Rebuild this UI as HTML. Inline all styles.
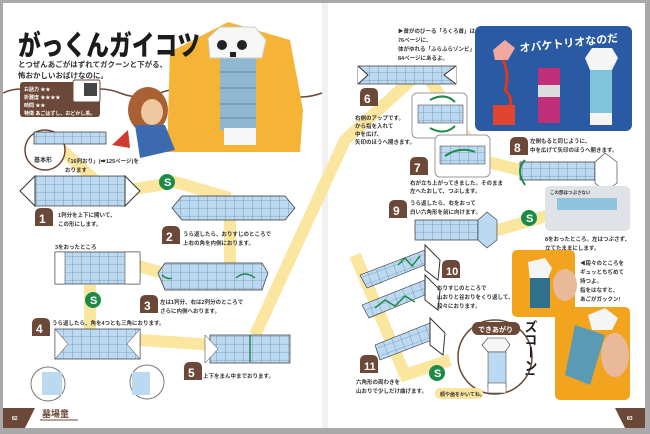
<!DOCTYPE html>
<html><head><meta charset="utf-8"><style>
html,body{margin:0;padding:0;background:#fff}
svg{display:block}
text{font-family:"Liberation Sans","Noto Sans CJK JP",sans-serif;font-weight:bold;fill:#333}
</style></head><body>
<svg width="650" height="434" viewBox="0 0 650 434" xmlns="http://www.w3.org/2000/svg">
<defs>
<pattern id="g" width="9" height="8" patternUnits="userSpaceOnUse">
<rect width="9" height="8" fill="#bcd9f2"/><path d="M0 0H9M0 0V8" stroke="#5a6f86" stroke-width="0.6"/>
</pattern>
<pattern id="g2" width="9" height="8" patternUnits="userSpaceOnUse" patternTransform="rotate(-20)">
<rect width="9" height="8" fill="#bcd9f2"/><path d="M0 0H9M0 0V8" stroke="#5a6f86" stroke-width="0.6"/>
</pattern>
<g id="tomb"><path d="M2 18V6Q2 0 8 0H14Q20 0 20 6V18Z" fill="#6b4838"/></g>
<g id="sic"><circle r="8" fill="#1e8a4a"/><text x="-3" y="4" font-size="11" style="fill:#fff">S</text></g>
</defs>
<rect width="650" height="434" fill="#a9a9a9"/>
<rect x="3" y="3" width="642" height="425" fill="#fff"/>
<rect x="322" y="3" width="6" height="425" fill="#f1f1f1"/>

<g stroke="#fbe6a0" stroke-width="12" fill="none">
<path d="M60 148 L100 185"/><path d="M130 190 L175 182 L230 198"/>
<path d="M230 220 V265"/><path d="M135 265 L170 275"/><path d="M90 285 V330"/>
<path d="M140 340 L215 345"/><path d="M255 335 L345 140 L420 72"/>
<path d="M430 80 L480 160 L540 175"/><path d="M480 235 L550 215"/>
<path d="M355 255 L405 375 L450 360"/>
</g>

<path d="M3 93 Q20 85 40 93 T80 93 T120 93 T160 93 T200 93 T240 93 T280 93 T322 93" stroke="#6b4838" stroke-width="1.5" fill="none"/>

<polygon points="170,52 228,22 290,40 303,110 300,152 167,152" fill="#f5b436"/>
<rect x="220" y="58" width="36" height="72" fill="#8fb7cf"/>
<g stroke="#5d8aa3" stroke-width="1"><path d="M220 72H256M220 88H256M220 104H256M220 118H256"/></g>
<rect x="224" y="128" width="32" height="17" fill="#f7f7f7"/>
<polygon points="208,38 220,27 255,27 266,40 262,58 210,58" fill="#f7f7f7" stroke="#ccc"/>
<circle cx="222" cy="45" r="5" fill="#222"/><circle cx="242" cy="45" r="5" fill="#222"/>
<rect x="230" y="52" width="6" height="5" fill="#222"/>

<ellipse cx="148" cy="110" rx="20" ry="23" fill="#a96032"/>
<ellipse cx="152" cy="112" rx="11" ry="13" fill="#f0c8a0"/>
<path d="M135 125 L165 125 L175 150 L140 158 Z" fill="#3b6ab0"/>
<path d="M128 130 L112 145 L130 148 Z" fill="#cf3b2c"/>

<text x="18" y="55" font-size="28" textLength="182" lengthAdjust="spacingAndGlyphs" style="fill:#1c1c1c;font-weight:900">がっくんガイコツ</text>
<text x="18" y="67" font-size="7.5">とつぜんあごがはずれてガクーンと下がる、</text>
<text x="18" y="78" font-size="7.5">怖おかしいおばけなのに。</text>

<rect x="20" y="82" width="80" height="35" rx="3" fill="#6b4838"/>
<text x="24" y="91" font-size="5" style="fill:#fff">お話力 ★★</text>
<text x="24" y="99" font-size="5" style="fill:#fff">折難度 ★★★★</text>
<text x="24" y="107" font-size="5" style="fill:#fff">時間 ★★</text>
<text x="24" y="115" font-size="5" style="fill:#fff">特徴 あごはずし、おどかし系。</text>
<rect x="73" y="80" width="27" height="22" rx="2" fill="#fff" stroke="#6b4838"/>
<rect x="84" y="83" width="13" height="13" fill="#444"/>

<circle cx="45" cy="150" r="20" fill="#fff" stroke="#6b4838" stroke-width="1.5"/>
<text x="34" y="162" font-size="6">基本形</text>
<rect x="34" y="132" width="72" height="12" fill="url(#g)" stroke="#333" stroke-width="0.7"/>
<text x="65" y="163" font-size="5.5">「16列おり」(➡125ページ)を</text>
<text x="65" y="172" font-size="5.5">おります</text>

<rect x="35" y="176" width="90" height="30" fill="url(#g)" stroke="#333" stroke-width="0.7"/>
<polygon points="20,191 35,176 35,206" fill="#fff" stroke="#333"/><polygon points="140,191 125,176 125,206" fill="#fff" stroke="#333"/>
<use href="#tomb" x="33" y="208"/><text x="39" y="223" font-size="12" style="fill:#fff">1</text>
<text x="58" y="217" font-size="5.5">1列分を上下に開いて、</text><text x="58" y="226" font-size="5.5">この形にします。</text>
<use href="#sic" x="167" y="182"/>

<polygon points="172,208 182,196 285,196 295,208 285,220 182,220" fill="url(#g)" stroke="#333" stroke-width="0.7"/>
<use href="#tomb" x="160" y="226"/><text x="166" y="241" font-size="12" style="fill:#fff">2</text>
<text x="183" y="236" font-size="5.5">うら返したら、おりすじのところで</text><text x="183" y="245" font-size="5.5">上右の角を内側におります。</text>

<text x="55" y="249" font-size="5.5">3をおったところ</text>
<rect x="55" y="252" width="85" height="32" fill="url(#g)" stroke="#333" stroke-width="0.7"/>
<rect x="55" y="252" width="10" height="32" fill="#fff" stroke="#333" stroke-width="0.5"/><rect x="125" y="252" width="15" height="32" fill="#fff" stroke="#333" stroke-width="0.5"/>
<use href="#sic" x="93" y="300"/>

<polygon points="158,273 165,263 262,263 268,273 262,290 165,290" fill="url(#g)" stroke="#333" stroke-width="0.7"/>
<path d="M162 275 Q168 280 172 278 M255 278 Q245 270 236 278" stroke="#1e8a4a" stroke-width="1.5" fill="none"/>
<use href="#tomb" x="138" y="295"/><text x="144" y="310" font-size="12" style="fill:#fff">3</text>
<text x="160" y="304" font-size="5.5">左は1列分、右は2列分のところで</text><text x="160" y="313" font-size="5.5">さらに内側へおります。</text>

<use href="#tomb" x="30" y="318"/><text x="36" y="333" font-size="12" style="fill:#fff">4</text>
<text x="52" y="325" font-size="5.5">うら返したら、角を4つとも三角におります。</text>
<rect x="55" y="329" width="85" height="30" fill="url(#g)" stroke="#333" stroke-width="0.7"/>
<polygon points="55,329 68,344 55,359" fill="#fff" stroke="#333" stroke-width="0.5"/><polygon points="140,329 127,344 140,359" fill="#fff" stroke="#333" stroke-width="0.5"/>
<circle cx="48" cy="384" r="17" fill="#fff" stroke="#777"/><polygon points="42,372 62,372 62,395 42,395" fill="#bcd9f2"/>
<circle cx="147" cy="382" r="17" fill="#fff" stroke="#777"/><polygon points="132,372 150,372 150,395 132,395" fill="#bcd9f2"/>

<rect x="210" y="335" width="80" height="28" fill="url(#g)" stroke="#333" stroke-width="0.7"/>
<polygon points="205,335 218,349 205,363" fill="#fff" stroke="#333" stroke-width="0.5"/>
<path d="M250 335 V362" stroke="#1e8a4a" stroke-width="1.5"/>
<use href="#tomb" x="182" y="362"/><text x="188" y="377" font-size="12" style="fill:#fff">5</text>
<text x="203" y="378" font-size="5.5">上下をまん中までおります。</text>

<polygon points="3,408 35,408 25,428 3,428" fill="#6b4838"/><text x="12" y="420" font-size="5" style="fill:#fff">82</text>
<text x="42" y="417" font-size="9" style="fill:#6b4838">墓場童</text><path d="M40 420H78" stroke="#6b4838"/>

<text x="398" y="33" font-size="5.5">▶首がのびーる「ろくろ首」は</text>
<text x="398" y="42" font-size="5.5">76ページに、</text>
<text x="398" y="51" font-size="5.5">体がゆれる「ふらふらゾンビ」は</text>
<text x="398" y="60" font-size="5.5">84ページにあるよ。</text>

<rect x="475" y="26" width="157" height="105" rx="6" fill="#2a5aa3"/>
<text x="520" y="52" font-size="11" style="fill:#fff" transform="rotate(-6 520 52)">オバケトリオなのだ</text>
<polygon points="493,50 505,40 515,48 508,60 495,60" fill="#f0a8a0"/>
<path d="M503 60 Q510 75 505 90 Q515 100 508 110" stroke="#d83a20" stroke-width="3" fill="none"/>
<rect x="493" y="105" width="22" height="20" fill="#e04530"/>
<rect x="538" y="68" width="22" height="55" fill="#c0307a"/><rect x="538" y="85" width="22" height="12" fill="#ddd"/>
<polygon points="585,58 592,48 612,48 618,58 612,70 590,70" fill="#f5f5f5"/>
<rect x="590" y="70" width="22" height="45" fill="#7fc4d8"/><rect x="590" y="113" width="22" height="12" fill="#f5f5f5"/>

<rect x="358" y="66" width="98" height="18" fill="url(#g)" stroke="#333" stroke-width="0.7"/>
<path d="M358 66L368 75L358 84M456 66L444 75L456 84" stroke="#333" fill="#fff"/>
<use href="#tomb" x="358" y="88"/><text x="364" y="103" font-size="12" style="fill:#fff">6</text>
<text x="355" y="120" font-size="5.5">右側のアップです。</text><text x="355" y="128" font-size="5.5">から指を入れて</text>
<text x="355" y="136" font-size="5.5">中を広げ、</text><text x="355" y="144" font-size="5.5">矢印のほうへ開きます。</text>
<rect x="412" y="93" width="55" height="45" rx="5" fill="#fff" stroke="#999"/>
<rect x="418" y="105" width="45" height="18" fill="url(#g)" stroke="#333" stroke-width="0.5"/>
<path d="M430 100 Q445 92 455 102 M430 128 Q445 136 455 126" stroke="#1e8a4a" stroke-width="2" fill="none"/>

<rect x="435" y="135" width="55" height="42" rx="5" fill="#fff" stroke="#999"/>
<rect x="440" y="146" width="45" height="18" fill="url(#g)" stroke="#333" stroke-width="0.5"/>
<path d="M445 156 Q460 146 475 152" stroke="#1e8a4a" stroke-width="2" fill="none"/>
<use href="#tomb" x="408" y="157"/><text x="414" y="172" font-size="12" style="fill:#fff">7</text>
<text x="410" y="185" font-size="5.5">右が立ち上がってきました。そのまま</text><text x="410" y="193" font-size="5.5">左へたおして、つぶします。</text>

<use href="#tomb" x="508" y="137"/><text x="514" y="152" font-size="12" style="fill:#fff">8</text>
<text x="530" y="143" font-size="5.5">左側もると同じように、</text><text x="530" y="152" font-size="5.5">中を広げて矢印のほうへ開きます。</text>
<rect x="520" y="162" width="85" height="18" fill="url(#g)" stroke="#333" stroke-width="0.7"/>
<polygon points="605,153 617,162 617,183 605,192 595,183 595,162" fill="#fff" stroke="#333" stroke-width="0.6"/>
<path d="M525 160 Q515 170 525 185" stroke="#1e8a4a" stroke-width="2" fill="none"/>
<rect x="545" y="186" width="85" height="45" rx="5" fill="#dfe2e6"/>
<rect x="557" y="198" width="60" height="12" fill="#8fc3de"/>
<text x="550" y="194" font-size="4.5">この部はつぶさない</text>
<text x="545" y="241" font-size="5.5">8をおったところ。左はつぶさず、</text><text x="545" y="250" font-size="5.5">立てたままにします。</text>

<use href="#tomb" x="387" y="200"/><text x="393" y="215" font-size="12" style="fill:#fff">9</text>
<text x="410" y="205" font-size="5.5">うら返したら、右をおって</text><text x="410" y="214" font-size="5.5">白い六角形を前に向けます。</text>
<rect x="415" y="220" width="75" height="20" fill="url(#g)" stroke="#333" stroke-width="0.7"/>
<polygon points="487,212 497,220 497,240 487,248 478,240 478,220" fill="#bcd9f2" stroke="#333" stroke-width="0.6"/>
<use href="#sic" x="529" y="218"/>

<polygon points="360,275 425,250 432,262 367,288" fill="url(#g2)" stroke="#333" stroke-width="0.6"/>
<polygon points="425,245 440,260 438,280 425,270" fill="#fff" stroke="#333"/>
<polygon points="362,305 425,280 432,292 369,318" fill="url(#g2)" stroke="#333" stroke-width="0.6"/>
<polygon points="425,275 440,290 438,310 425,300" fill="#fff" stroke="#333"/>
<polygon points="375,345 430,323 437,338 380,360" fill="url(#g2)" stroke="#333" stroke-width="0.6"/>
<polygon points="430,318 445,333 443,355 430,345" fill="#fff" stroke="#333"/>
<path d="M398 265 L405 258 L412 266 L420 256 M375 308 L385 300 L395 306 L405 296 L415 302" stroke="#1e8a4a" stroke-width="1.5" fill="none"/>
<use href="#tomb" x="440" y="260"/><text x="446" y="275" font-size="11" style="fill:#fff">10</text>
<text x="437" y="290" font-size="5.5">おりすじのところで</text><text x="437" y="299" font-size="5.5">山おりと谷おりをくり返して、</text><text x="437" y="308" font-size="5.5">段々におります。</text>
<use href="#tomb" x="358" y="355"/><text x="364" y="370" font-size="11" style="fill:#fff">11</text>
<text x="356" y="384" font-size="5.5">六角形の両わきを</text><text x="356" y="393" font-size="5.5">山おりで少しだけ曲げます。</text>
<use href="#sic" x="437" y="373"/>

<circle cx="495" cy="357" r="37" fill="#fff" stroke="#6b4838" stroke-width="1.5"/>
<rect x="472" y="322" width="48" height="13" rx="6" fill="#6b4838"/><text x="478" y="332" font-size="7" style="fill:#fff">できあがり</text>
<polygon points="482,345 488,338 505,338 510,345 505,352 488,352" fill="#f5f5f5" stroke="#333" stroke-width="0.6"/>
<rect x="488" y="352" width="18" height="35" fill="#bcd9f2" stroke="#333" stroke-width="0.5"/>
<rect x="488" y="383" width="18" height="10" fill="#fff" stroke="#333" stroke-width="0.5"/>
<rect x="435" y="388" width="48" height="11" rx="5" fill="#fbe6a0"/><text x="440" y="396" font-size="5">顔や歯をかいてね。</text>

<rect x="512" y="250" width="63" height="67" rx="5" fill="#f3a41f"/>
<polygon points="528,262 545,258 552,268 548,278 530,280" fill="#f5f5f5"/>
<rect x="530" y="278" width="20" height="30" fill="#30708a"/>
<ellipse cx="565" cy="285" rx="12" ry="16" fill="#eab99a"/>
<text x="580" y="265" font-size="5.5">◀段々のところを</text><text x="580" y="274" font-size="5.5">ギュッとちぢめて</text><text x="580" y="283" font-size="5.5">持つよ。</text><text x="580" y="292" font-size="5.5">指をはなすと、</text><text x="580" y="301" font-size="5.5">あごがガックン!</text>
<rect x="555" y="307" width="75" height="93" rx="5" fill="#f3a41f"/>
<polygon points="588,315 605,308 618,318 612,330 592,330" fill="#f5f5f5"/>
<polygon points="575,325 605,335 590,385 565,375" fill="#5a9ab5"/>
<ellipse cx="615" cy="355" rx="14" ry="22" fill="#eab99a"/>
<text x="530" y="320" font-size="13" style="fill:#1c1c1c;writing-mode:vertical-rl">ズコーン!</text>

<polygon points="615,408 645,408 645,428 625,428" fill="#6b4838"/><text x="627" y="420" font-size="5" style="fill:#fff">83</text>
</svg>
</body></html>
